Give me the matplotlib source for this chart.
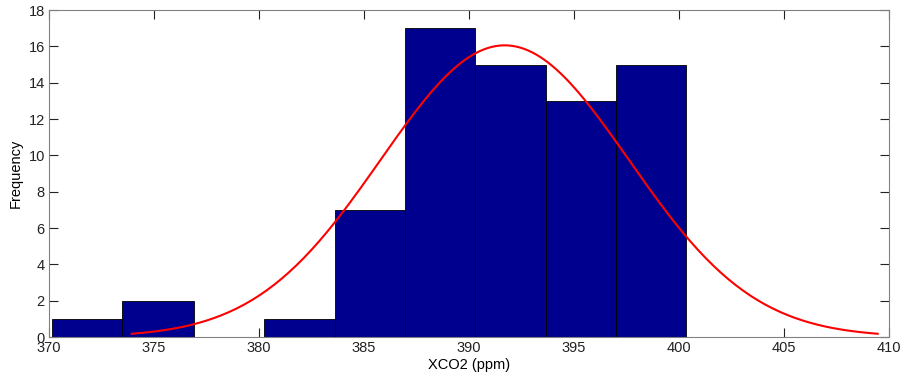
import numpy as np
import matplotlib
matplotlib.use('Agg')
import matplotlib.pyplot as plt

# histogram of XCO2 values (bin edges)
bin_edges = [370.15, 373.5, 376.9, 380.25, 383.6, 386.95, 390.3, 393.65, 397.0, 400.35]
counts = [1, 2, 0, 1, 7, 17, 15, 13, 15]

# normal fit drawn over the histogram (histfit style, +-3 sigma)
fit_mu = 391.7
fit_sigma = 5.92

x_ticks = [370, 375, 380, 385, 390, 395, 400, 405, 410]
y_ticks = [0, 2, 4, 6, 8, 10, 12, 14, 16, 18]

plt.rcParams['font.family'] = ['Liberation Sans', 'DejaVu Sans']

fig = plt.figure(figsize=(9.02, 3.76), dpi=100)
ax = fig.add_axes([0.0543, 0.1037, 0.9313, 0.8697])

edges = np.array(bin_edges)
widths = np.diff(edges)
ax.bar(edges[:-1], counts, width=widths, align='edge', color='#00008F',
       edgecolor='black', linewidth=0.6, zorder=2)

n_total = np.sum(counts)
bw = np.mean(widths)
xx = np.linspace(fit_mu - 3*fit_sigma, fit_mu + 3*fit_sigma, 200)
yy = n_total*bw/(fit_sigma*np.sqrt(2*np.pi))*np.exp(-(xx - fit_mu)**2/(2*fit_sigma**2))
ax.plot(xx, yy, color='red', linewidth=1.5, zorder=3)

ax.set_xlim(370, 410)
ax.set_ylim(0, 18)
ax.set_xticks(x_ticks)
ax.set_yticks(y_ticks)
ax.tick_params(direction='in', length=6.5, width=0.8, top=True, right=True,
               labelsize=10.5, pad=3, colors='#222222')
for s in ax.spines.values():
    s.set_color('#808080')
    s.set_linewidth(0.8)
    s.set_zorder(4)

ax.set_xlabel('XCO2 (ppm)', fontsize=10.5, labelpad=2)
ax.set_ylabel('Frequency', fontsize=10.5, labelpad=4)

fig.savefig('out.png', dpi=100)
